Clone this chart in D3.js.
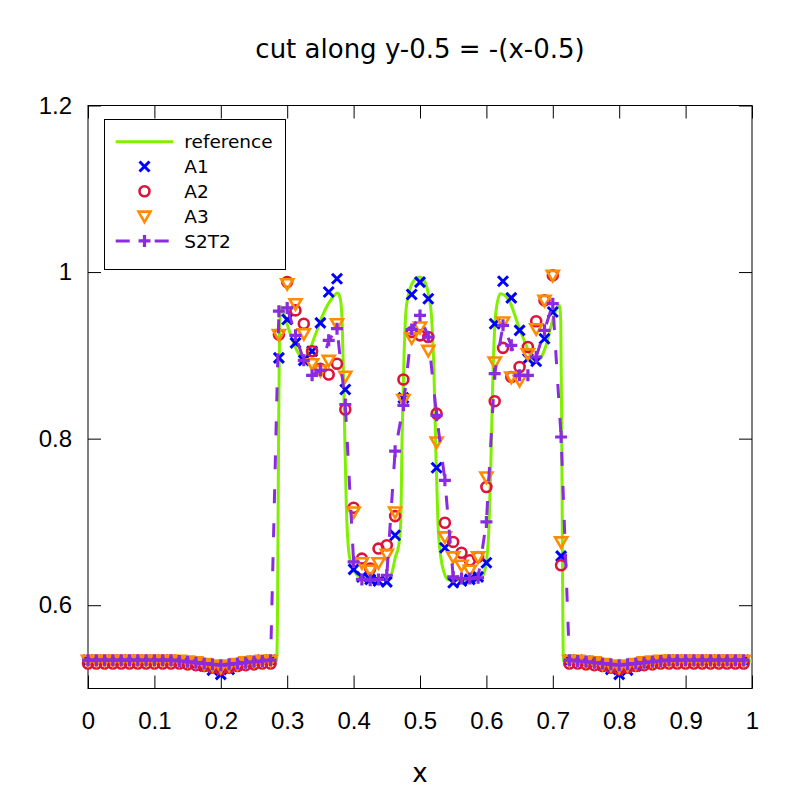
<!DOCTYPE html>
<html>
<head>
<meta charset="utf-8">
<script src="https://cdn.jsdelivr.net/npm/d3@7"></script>
<style>
  body { margin: 0; background: #fff; }
  svg { font-family: 'DejaVu Sans', sans-serif; }
</style>
</head>
<body>
<svg id="chart"></svg>
<script>
//
// Data
//

// sample positions along the cut: 80 cells, step 1/80
const sampleCount = 80;
const xSamples = d3.range(sampleCount).map(i => i / sampleCount);

const seriesA1 = [
  0.534, 0.534, 0.534, 0.534, 0.534, 0.534, 0.534, 0.534, 0.534, 0.534,
  0.534, 0.533, 0.532, 0.530, 0.527, 0.522, 0.517, 0.523, 0.528, 0.531,
  0.533, 0.534, 0.534, 0.897, 0.943, 0.915, 0.894, 0.905, 0.939, 0.976,
  0.992, 0.859, 0.643, 0.634, 0.631, 0.629, 0.628, 0.684, 0.849, 0.973,
  0.988, 0.968, 0.765, 0.669, 0.627, 0.629, 0.631, 0.634, 0.651, 0.938,
  0.989, 0.969, 0.930, 0.896, 0.893, 0.920, 0.952, 0.659, 0.534, 0.534,
  0.533, 0.531, 0.528, 0.523, 0.517, 0.522, 0.527, 0.530, 0.532, 0.533,
  0.534, 0.534, 0.534, 0.534, 0.534, 0.534, 0.534, 0.534, 0.534, 0.534
];

const seriesA2 = [
  0.530, 0.530, 0.530, 0.530, 0.530, 0.530, 0.530, 0.530, 0.530, 0.530,
  0.530, 0.530, 0.529, 0.528, 0.527, 0.525, 0.523, 0.525, 0.527, 0.528,
  0.529, 0.530, 0.530, 0.925, 0.988, 0.954, 0.938, 0.905, 0.884, 0.877,
  0.890, 0.835, 0.717, 0.656, 0.644, 0.668, 0.672, 0.707, 0.871, 0.928,
  0.924, 0.922, 0.830, 0.699, 0.676, 0.663, 0.654, 0.658, 0.742, 0.845,
  0.909, 0.874, 0.886, 0.910, 0.941, 0.966, 0.996, 0.648, 0.530, 0.530,
  0.529, 0.528, 0.527, 0.525, 0.523, 0.525, 0.527, 0.528, 0.529, 0.530,
  0.530, 0.530, 0.530, 0.530, 0.530, 0.530, 0.530, 0.530, 0.530, 0.530
];

const seriesA3 = [
  0.534, 0.534, 0.534, 0.534, 0.534, 0.534, 0.534, 0.534, 0.534, 0.534,
  0.534, 0.534, 0.533, 0.532, 0.530, 0.528, 0.526, 0.528, 0.530, 0.532,
  0.533, 0.534, 0.534, 0.925, 0.986, 0.962, 0.926, 0.890, 0.882, 0.894,
  0.938, 0.875, 0.712, 0.651, 0.642, 0.651, 0.661, 0.712, 0.847, 0.921,
  0.934, 0.906, 0.796, 0.682, 0.658, 0.648, 0.642, 0.658, 0.754, 0.892,
  0.940, 0.874, 0.870, 0.902, 0.932, 0.966, 0.996, 0.676, 0.534, 0.534,
  0.533, 0.532, 0.530, 0.528, 0.526, 0.528, 0.530, 0.532, 0.533, 0.534,
  0.534, 0.534, 0.534, 0.534, 0.534, 0.534, 0.534, 0.534, 0.534, 0.534
];

const seriesS2T2 = [
  0.534, 0.534, 0.534, 0.534, 0.534, 0.534, 0.534, 0.534, 0.534, 0.534,
  0.534, 0.533, 0.532, 0.531, 0.530, 0.529, 0.528, 0.529, 0.530, 0.531,
  0.532, 0.533, 0.534, 0.953, 0.957, 0.924, 0.894, 0.876, 0.882, 0.918,
  0.932, 0.841, 0.652, 0.631, 0.630, 0.631, 0.636, 0.785, 0.840, 0.931,
  0.948, 0.922, 0.828, 0.750, 0.634, 0.632, 0.632, 0.633, 0.700, 0.878,
  0.936, 0.912, 0.876, 0.876, 0.898, 0.930, 0.962, 0.802, 0.534, 0.533,
  0.532, 0.531, 0.530, 0.529, 0.528, 0.529, 0.530, 0.531, 0.532, 0.533,
  0.534, 0.534, 0.534, 0.534, 0.534, 0.534, 0.534, 0.534, 0.534, 0.534
];

// reference solution (fine resolution curve)
const refX = [
  0, 0.284, 0.2855, 0.287, 0.2885, 0.291, 0.296, 0.305, 0.315, 0.324,
  0.332, 0.342, 0.355, 0.367, 0.376, 0.380, 0.383, 0.386, 0.389, 0.392,
  0.396, 0.401, 0.410, 0.430, 0.452, 0.458, 0.463, 0.468, 0.471, 0.473,
  0.476, 0.479, 0.485, 0.492, 0.499, 0.506, 0.512, 0.517, 0.521, 0.524,
  0.527, 0.531, 0.536, 0.542, 0.560, 0.590, 0.597, 0.603, 0.607, 0.610,
  0.614, 0.621, 0.634, 0.649, 0.661, 0.671, 0.679, 0.689, 0.699, 0.706,
  0.710, 0.712, 0.7135, 0.715, 0.716, 1
];
const refY = [
  0.533, 0.533, 0.600, 0.800, 0.930, 0.958, 0.947, 0.925, 0.905, 0.896,
  0.903, 0.924, 0.951, 0.968, 0.975, 0.968, 0.935, 0.830, 0.720, 0.670,
  0.650, 0.641, 0.634, 0.631, 0.631, 0.640, 0.658, 0.672, 0.700, 0.800,
  0.900, 0.955, 0.980, 0.991, 0.994, 0.990, 0.976, 0.950, 0.880, 0.780,
  0.700, 0.660, 0.640, 0.631, 0.630, 0.631, 0.640, 0.680, 0.780, 0.880,
  0.950, 0.974, 0.966, 0.934, 0.910, 0.895, 0.895, 0.910, 0.940, 0.957,
  0.960, 0.940, 0.800, 0.600, 0.533, 0.533
];

const xTicks = [0, 0.1, 0.2, 0.3, 0.4, 0.5, 0.6, 0.7, 0.8, 0.9, 1];
const yTicks = [0.6, 0.8, 1.0, 1.2];
const legendLabels = ['reference', 'A1', 'A2', 'A3', 'S2T2'];

//
// Layout
//
const width = 800;
const height = 800;
const marginTop = 105.5;
const marginRight = 48;
const marginBottom = 111.5;
const marginLeft = 88;
const tickLen = 13;

const colors = {
  reference: '#80f000',
  A1: '#0000ff',
  A2: '#dc143c',
  A3: '#ff8c00',
  S2T2: '#8a2be2'
};

const xScale = d3.scaleLinear([0, 1], [marginLeft, width - marginRight]);
const yScale = d3.scaleLinear([0.5, 1.2], [height - marginBottom, marginTop]);

const svg = d3.select('#chart')
  .attr('width', width)
  .attr('height', height)
  .attr('viewBox', [0, 0, width, height]);

svg.append('rect')
  .attr('width', width)
  .attr('height', height)
  .attr('fill', '#fff');

// Axes (gnuplot style: inward ticks on all four sides)
svg.append('g')
  .attr('transform', `translate(0,${height - marginBottom})`)
  .call(d3.axisBottom(xScale).tickValues(xTicks).tickFormat(d3.format('~g'))
    .tickSizeInner(-tickLen).tickSizeOuter(0).tickPadding(23))
  .call(g => g.select('.domain').remove())
  .call(g => g.selectAll('.tick text').attr('font-size', 24).attr('fill', '#000'));

svg.append('g')
  .attr('transform', `translate(0,${marginTop})`)
  .call(d3.axisTop(xScale).tickValues(xTicks).tickFormat('')
    .tickSizeInner(-tickLen).tickSizeOuter(0))
  .call(g => g.select('.domain').remove());

svg.append('g')
  .attr('transform', `translate(${marginLeft},0)`)
  .call(d3.axisLeft(yScale).tickValues(yTicks).tickFormat(d3.format('~g'))
    .tickSizeInner(-tickLen).tickSizeOuter(0).tickPadding(16))
  .call(g => g.select('.domain').remove())
  .call(g => g.selectAll('.tick text').attr('font-size', 24).attr('fill', '#000'));

svg.append('g')
  .attr('transform', `translate(${width - marginRight},0)`)
  .call(d3.axisRight(yScale).tickValues(yTicks).tickFormat('')
    .tickSizeInner(-tickLen).tickSizeOuter(0))
  .call(g => g.select('.domain').remove());

svg.selectAll('.tick line').attr('stroke', '#000');

// Frame
svg.append('rect')
  .attr('x', marginLeft)
  .attr('y', marginTop)
  .attr('width', width - marginLeft - marginRight)
  .attr('height', height - marginTop - marginBottom)
  .attr('fill', 'none')
  .attr('stroke', '#000')
  .attr('stroke-width', 1);

// Titles
svg.append('text')
  .attr('x', xScale(0.5))
  .attr('y', 58)
  .attr('text-anchor', 'middle')
  .attr('font-size', 26)
  .text('cut along y-0.5 = -(x-0.5)');

svg.append('text')
  .attr('x', xScale(0.5))
  .attr('y', 782)
  .attr('text-anchor', 'middle')
  .attr('font-size', 26)
  .text('x');

// Marker shapes
const markerPath = {
  A1: 'M-5,-5L5,5M-5,5L5,-5',
  A2: d3.symbol(d3.symbolCircle, 78)(),
  A3: 'M-6,-4.5L6,-4.5L0,6Z',
  S2T2: 'M-6,0H6M0,-6V6'
};
const markerWidth = { A1: 3, A2: 2.6, A3: 2.6, S2T2: 3.2 };

const drawMarkers = (g, name, values) => {
  g.append('g')
    .selectAll('path')
    .data(values)
    .join('path')
    .attr('transform', (d, i) => `translate(${xScale(xSamples[i])},${yScale(d)})`)
    .attr('d', markerPath[name])
    .attr('fill', 'none')
    .attr('stroke', colors[name])
    .attr('stroke-width', markerWidth[name]);
};

const plot = svg.append('g');

// reference line
plot.append('path')
  .datum(d3.zip(refX, refY))
  .attr('fill', 'none')
  .attr('stroke', colors.reference)
  .attr('stroke-width', 3)
  .attr('d', d3.line()
    .x(d => xScale(d[0]))
    .y(d => yScale(d[1]))
    .curve(d3.curveMonotoneX));

drawMarkers(plot, 'A1', seriesA1);
drawMarkers(plot, 'A2', seriesA2);
drawMarkers(plot, 'A3', seriesA3);

// S2T2: dashed line with points
plot.append('path')
  .datum(seriesS2T2)
  .attr('fill', 'none')
  .attr('stroke', colors.S2T2)
  .attr('stroke-width', 3)
  .attr('stroke-dasharray', '14,20')
  .attr('d', d3.line()
    .x((d, i) => xScale(xSamples[i]))
    .y(d => yScale(d)));
drawMarkers(plot, 'S2T2', seriesS2T2);

// Legend
const legend = svg.append('g');
legend.append('rect')
  .attr('x', 104.5)
  .attr('y', 119.5)
  .attr('width', 181)
  .attr('height', 150)
  .attr('fill', '#fff')
  .attr('stroke', '#000')
  .attr('stroke-width', 1);

legendLabels.forEach((name, k) => {
  const yy = 141.7 + k * 24.8;
  const row = legend.append('g');
  if (name === 'reference') {
    row.append('line')
      .attr('x1', 115.7).attr('x2', 173.3)
      .attr('y1', yy).attr('y2', yy)
      .attr('stroke', colors.reference)
      .attr('stroke-width', 3);
  }
  if (name === 'S2T2') {
    row.append('line')
      .attr('x1', 115.7).attr('x2', 173.3)
      .attr('y1', yy).attr('y2', yy)
      .attr('stroke', colors.S2T2)
      .attr('stroke-width', 3)
      .attr('stroke-dasharray', '14,25');
  }
  if (name !== 'reference') {
    row.append('path')
      .attr('transform', `translate(144.5,${yy})`)
      .attr('d', markerPath[name])
      .attr('fill', 'none')
      .attr('stroke', colors[name])
      .attr('stroke-width', markerWidth[name]);
  }
  row.append('text')
    .attr('x', 184.3)
    .attr('y', yy)
    .attr('dy', '0.36em')
    .attr('font-size', 18.5)
    .text(name);
});
</script>
</body>
</html>
